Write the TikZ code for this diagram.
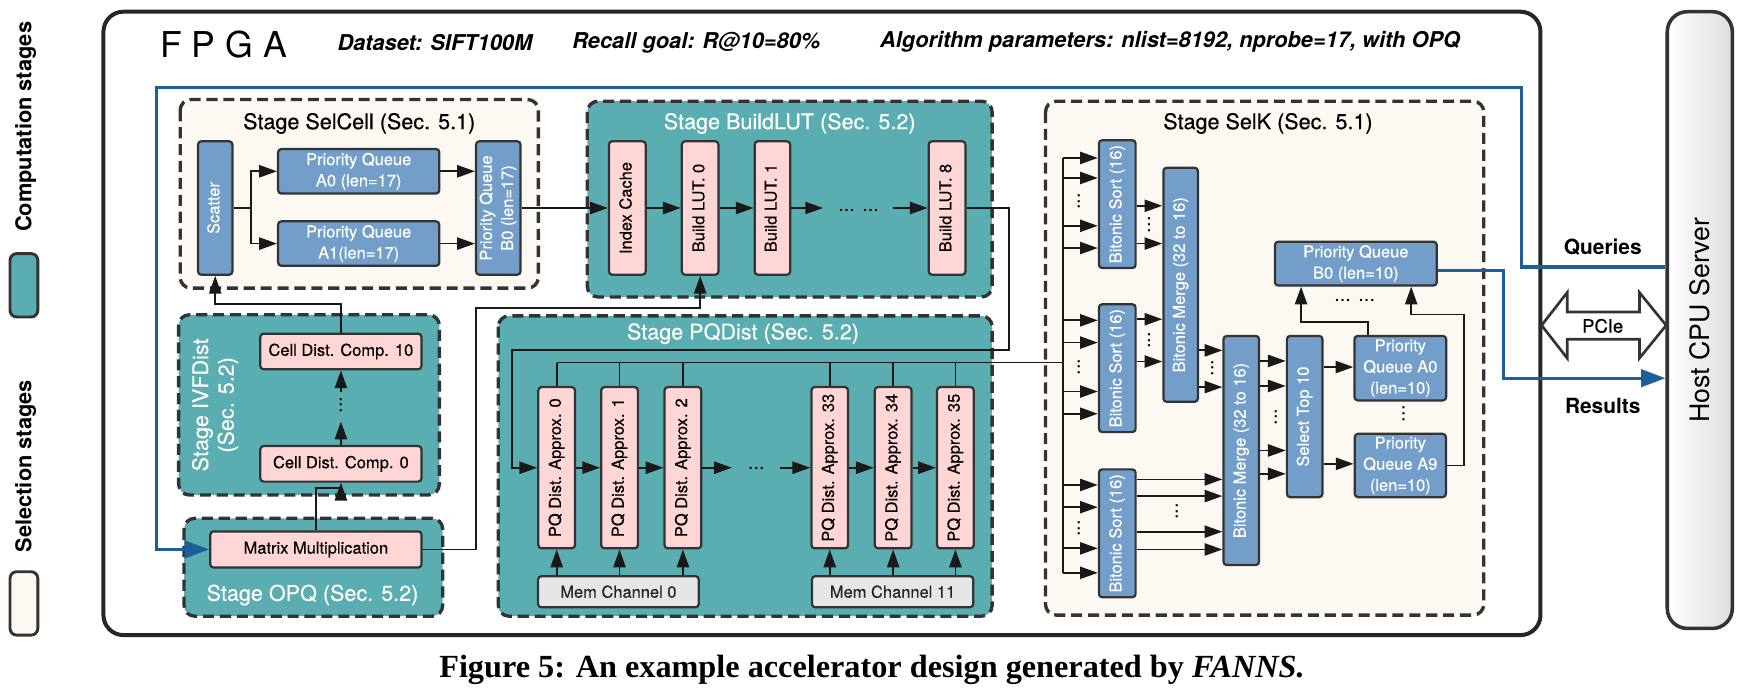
\documentclass[tikz,border=0pt]{standalone}
\usepackage{fontspec}
\setmainfont{TeX Gyre Heros}
\newfontfamily\medf{TeX Gyre Heros}[FakeBold=0.35]
\newfontfamily\capfont{Liberation Serif}
\usetikzlibrary{arrows.meta,calc}
\definecolor{teal1}{HTML}{5AADB0}
\definecolor{beige1}{HTML}{FDF8F2}
\definecolor{blue1}{HTML}{739ECA}
\definecolor{pink1}{HTML}{FFD6D6}
\definecolor{gray1}{HTML}{E6E6E6}
\definecolor{line1}{HTML}{1F5F99}
\definecolor{bd}{HTML}{333333}
\newcommand{\bxf}{\medf\fontsize{7.4}{9.5}\selectfont}
\newcommand{\rtx}[1]{\rotatebox{90}{\begin{tabular}{@{}c@{}}#1\end{tabular}}}
\newcommand{\vdt}{\rotatebox{90}{...}}
\tikzset{
  sz/.style 2 args={minimum width=#1*0.5pt,minimum height=#2*0.5pt},
  box/.style={draw=bd,line width=1pt,rounded corners=1.5pt,inner sep=0pt,align=center,font=\bxf},
  bbox/.style={box,fill=blue1,text=white},
  pbox/.style={box,fill=pink1,text=black},
  gbox/.style={box,fill=gray1,text=black!85},
  stg/.style={draw=bd,line width=1.5pt,dash pattern=on 5pt off 2.6pt,rounded corners=4.8pt},
  ttl/.style={font=\medf\fontsize{9.7}{11.5}\selectfont,text=black,inner sep=0pt,align=center},
  ttlw/.style={ttl,text=white},
  dts/.style={font=\fontsize{9}{10}\selectfont,inner sep=0pt,text=black},
  ln/.style={line width=0.8pt,draw=black!90},
  arr/.style={ln,-{Triangle[length=8pt,width=5.5pt]}},
  barr/.style={draw=line1,line width=1.5pt,-{Triangle[length=11pt,width=7.8pt]}},
  lbl/.style={font=\bfseries\fontsize{9.4}{11}\selectfont,inner sep=0pt},
  hdr/.style={font=\bfseries\itshape\fontsize{9.8}{11}\selectfont,inner sep=0pt}
}
\begin{document}
\begin{tikzpicture}[x=0.5pt,y=-0.5pt]
\useasboundingbox (0,0) rectangle (1568,623);
% legend
\node[font=\bfseries\fontsize{9.8}{11}\selectfont,inner sep=0pt] (lc) at (23,114) {\rotatebox{90}{Computation stages}};
\node[draw=bd,line width=1.3pt,rounded corners=3pt,fill=teal1,sz={25}{57}] (lsq1) at (21.5,256.5) {};
\node[font=\bfseries\fontsize{9.8}{11}\selectfont,inner sep=0pt] (ls) at (23,419) {\rotatebox{90}{Selection stages}};
\node[draw=bd,line width=1.3pt,rounded corners=3pt,fill=beige1,sz={25}{57}] (lsq2) at (21.5,542.5) {};
% outer FPGA box
\draw[line width=1.8pt,draw=black!85,rounded corners=9pt] (93,10.5) rectangle (1385,571);
% host
\node[draw=bd,line width=1.6pt,rounded corners=9pt,left color=white,right color=black!13,sz={58.5}{554.5},font=\fontsize{12}{14}\selectfont,inner sep=0pt] (host) at (1528.25,287.75) {\rotatebox{90}{Host CPU Server}};
% title row
\node[font=\fontsize{16}{18}\selectfont,inner sep=0pt] (fpga) at (201,40) {F P G A};
\node[hdr] (ds) at (391,38) {Dataset: SIFT100M};
\node[hdr] (rg) at (626,38) {Recall goal: R@10=80\%};
\node[hdr] (ap) at (1052,38) {Algorithm parameters: nlist=8192, nprobe=17, with OPQ};
% stage boxes
\draw[stg,fill=beige1] (162,89.5) rectangle (484,259);
\draw[stg,fill=teal1] (528,91) rectangle (892,267);
\draw[stg,fill=teal1] (160.6,283) rectangle (395,445);
\draw[stg,fill=teal1] (165.5,466) rectangle (398,554);
\draw[stg,fill=teal1] (448,284) rectangle (892,554);
\draw[stg,fill=beige1] (940,91) rectangle (1334,553);
% titles
\node[ttl] (tsel) at (323,111) {Stage SelCell (Sec. 5.1)};
\node[ttlw] (tlut) at (710,111) {Stage BuildLUT (Sec. 5.2)};
\node[ttlw] (tivf) at (194,364) {\rtx{Stage IVFDist\\(Sec. 5.2)}};
\node[ttlw] (topq) at (281,535) {Stage OPQ (Sec. 5.2)};
\node[ttlw] (tpqd) at (668,300) {Stage PQDist (Sec. 5.2)};
\node[ttl] (tselk) at (1140,111) {Stage SelK (Sec. 5.1)};
% SelCell
\node[bbox,sz={31}{120}] (scat) at (193.5,187) {\rtx{Scatter}};
\node[bbox,sz={145}{40}] (a0) at (322.5,154) {Priority Queue\\A0 (len=17)};
\node[bbox,sz={145}{40}] (a1) at (322.5,219) {Priority Queue\\A1(len=17)};
\node[bbox,sz={40}{120}] (b0) at (448,187) {\rtx{Priority Queue\\B0 (len=17)}};
\draw[ln] (scat.east) -- (226,187);
\draw[arr] (226,187) |- (a0.west);
\draw[arr] (226,187) |- (a1.west);
\draw[arr] (a0.east) -- (a0.east -| b0.west);
\draw[arr] (a1.east) -- (a1.east -| b0.west);
% BuildLUT
\node[pbox,sz={33}{120}] (ic) at (564,187) {\rtx{Index Cache}};
\node[pbox,sz={33}{120}] (l0) at (629.5,187) {\rtx{Build LUT. 0}};
\node[pbox,sz={32}{120}] (l1) at (694.5,187) {\rtx{Build LUT. 1}};
\node[pbox,sz={33}{120}] (l8) at (851.5,187) {\rtx{Build LUT. 8}};
\coordinate (l1e) at (740,187);
\coordinate (l8s) at (803,187);
\node[dts] (ldots) at (772,189) {... ...};
\draw[arr] (b0.east) -- (ic.west);
\draw[arr] (ic.east) -- (l0.west);
\draw[arr] (l0.east) -- (l1.west);
\draw[arr] (l1.east) -- (l1e);
\draw[arr] (l8s) -- (l8.west);
% IVFDist
\node[pbox,sz={145}{32}] (c10) at (306.5,316) {Cell Dist. Comp. 10};
\node[pbox,sz={145}{32}] (c0) at (306.5,417) {Cell Dist. Comp. 0};
\coordinate (cv1) at (306.5,379);
\coordinate (cv2) at (306.5,352);
\node[dts] (cdots) at (306.5,364) {\vdt};
\draw[arr] (c0.north) -- (cv1);
\draw[arr] (cv2) -- (c10.south);
\draw[arr] (c10.north) |- (193.5,273) -- (scat.south);
% OPQ
\node[pbox,sz={190}{32.5}] (mm) at (284,494) {Matrix Multiplication};
\draw[arr] (mm.north) -- ++(0,-38) -| (c0.south);
\draw[ln,-{Triangle[length=8pt,width=5.5pt]}] (mm.east) -- (428,494) -- (428,277) -| (l0.south);
% PQDist
\foreach \i/\x in {0/500.5,1/557,2/614,33/746,34/803,35/859}
  \node[pbox,sz={33}{145}] (pq\i) at (\x,420.5) {\rtx{PQ Dist. Approx. \i}};
\coordinate (p2e) at (658,420.5);
\coordinate (p33s) at (701,420.5);
\node[dts] (pdots) at (680,421) {...};
\draw[arr] (pq0.east) -- (pq1.west);
\draw[arr] (pq1.east) -- (pq2.west);
\draw[arr] (pq2.east) -- (p2e);
\draw[arr] (p33s) -- (pq33.west);
\draw[arr] (pq33.east) -- (pq34.west);
\draw[arr] (pq34.east) -- (pq35.west);
\node[gbox,sz={144.5}{28}] (mc0) at (556,532) {Mem Channel 0};
\node[gbox,sz={145}{28}] (mc11) at (802.5,532) {Mem Channel 11};
\foreach \i in {0,1,2} \draw[arr] (mc0.north -| pq\i.south) -- (pq\i.south);
\foreach \i in {33,34,35} \draw[arr] (mc11.north -| pq\i.south) -- (pq\i.south);
\draw[arr] (l8.east) -- (907,187) |- (460.5,315) |- (pq0.west);
% bus to SelK
\coordinate (bus) at (956,0);
\foreach \i in {0,1,2,33,34,35} \draw[ln] (pq\i.north) -- (pq\i.north |- 0,326);
\draw[ln] (pq0.north |- 0,326) -- (bus |- 0,326);
\draw[ln] (bus |- 0,142) -- (bus |- 0,515);
% SelK
\node[bbox,sz={33}{115}] (bs1) at (1004.5,183.5) {\rtx{Bitonic Sort (16)}};
\node[bbox,sz={33}{115}] (bs2) at (1004.5,331) {\rtx{Bitonic Sort (16)}};
\node[bbox,sz={33}{115}] (bs3) at (1004.5,479.5) {\rtx{Bitonic Sort (16)}};
\node[bbox,sz={31}{210.5}] (bm1) at (1061.5,256) {\rtx{Bitonic Merge (32 to 16)}};
\node[bbox,sz={32}{206}] (bm2) at (1116,405) {\rtx{Bitonic Merge (32 to 16)}};
\node[bbox,sz={32}{145}] (st) at (1173,374.5) {\rtx{Select Top 10}};
\node[bbox,sz={82.5}{58}] (qa0) at (1259,331) {Priority\\Queue A0\\(len=10)};
\node[bbox,sz={82}{57}] (qa9) at (1259,418.5) {Priority\\Queue A9\\(len=10)};
\node[bbox,sz={145.5}{39.5}] (qb0) at (1219,237) {Priority Queue\\B0 (len=10)};
\foreach \y in {142,160,203,223} \draw[arr] (bus |- 0,\y) -- (bs1.west |- 0,\y);
\foreach \y in {288,308,352,372} \draw[arr] (bus |- 0,\y) -- (bs2.west |- 0,\y);
\foreach \y in {436,456,493,515} \draw[arr] (bus |- 0,\y) -- (bs3.west |- 0,\y);
\node[dts] (sd1) at (970,181) {\vdt};
\node[dts] (sd2) at (970,330) {\vdt};
\node[dts] (sd3) at (970,475) {\vdt};
\foreach \y in {185,219} \draw[arr] (bs1.east |- 0,\y) -- (bm1.west |- 0,\y);
\foreach \y in {287,325} \draw[arr] (bs2.east |- 0,\y) -- (bm1.west |- 0,\y);
\node[dts] (sd4) at (1033,202) {\vdt};
\node[dts] (sd5) at (1033,306) {\vdt};
\foreach \y in {315,348} \draw[arr] (bm1.east |- 0,\y) -- (bm2.west |- 0,\y);
\node[dts] (sd6) at (1090,331) {\vdt};
\foreach \y in {431,446,478,494} \draw[arr] (bs3.east |- 0,\y) -- (bm2.west |- 0,\y);
\node[dts] (sd7) at (1058,460) {\vdt};
\foreach \y in {324.5,347,405,426} \draw[arr] (bm2.east |- 0,\y) -- (st.west |- 0,\y);
\node[dts] (sd8) at (1147,375) {\vdt};
\draw[arr] (st.east |- 0,330) -- (qa0.west |- 0,330);
\draw[arr] (st.east |- 0,417) -- (qa9.west |- 0,417);
\node[dts] (sd9) at (1262,372) {\vdt};
\draw[arr] ($(qa0.north west)+(13.5,0)$) |- ($(qb0.south west)+(24.5,32)$) -- ($(qb0.south west)+(24.5,0)$);
\draw[arr] (qa9.east) -- ++(15,0) |- ($(qb0.south east)+(-24,25)$) -- ($(qb0.south east)+(-24,0)$);
\node[dts] (bdots) at (1218,270) {... ...};
% PCIe
\draw[draw=bd,line width=1.2pt,fill=white,line join=miter] (1386,292.5) -- (1409,263) -- (1409,280.5) -- (1474,280.5) -- (1474,263) -- (1498,292.5) -- (1474,322) -- (1474,305) -- (1409,305) -- (1409,322) -- cycle;
\node[font=\medf\fontsize{8.3}{10}\selectfont,inner sep=0pt] (pcie) at (1441,293) {PCIe};
\node[lbl] (qlab) at (1441,222) {Queries};
\node[lbl] (rlab) at (1441,365) {Results};
% blue lines
\draw[barr] (host.west |- 0,240) -- (1368,240) |- (141,78.5) |- (mm.west);
\draw[barr] ([yshift=-3pt]qb0.east) -| (1352,340) -- (host.west |- 0,340);
% caption
\node[font=\capfont\bfseries\fontsize{14.5}{16}\selectfont,inner sep=0pt] (cap) at (784,602) {Figure 5: An example accelerator design generated by \textit{FANNS.}};
\end{tikzpicture}
\end{document}
